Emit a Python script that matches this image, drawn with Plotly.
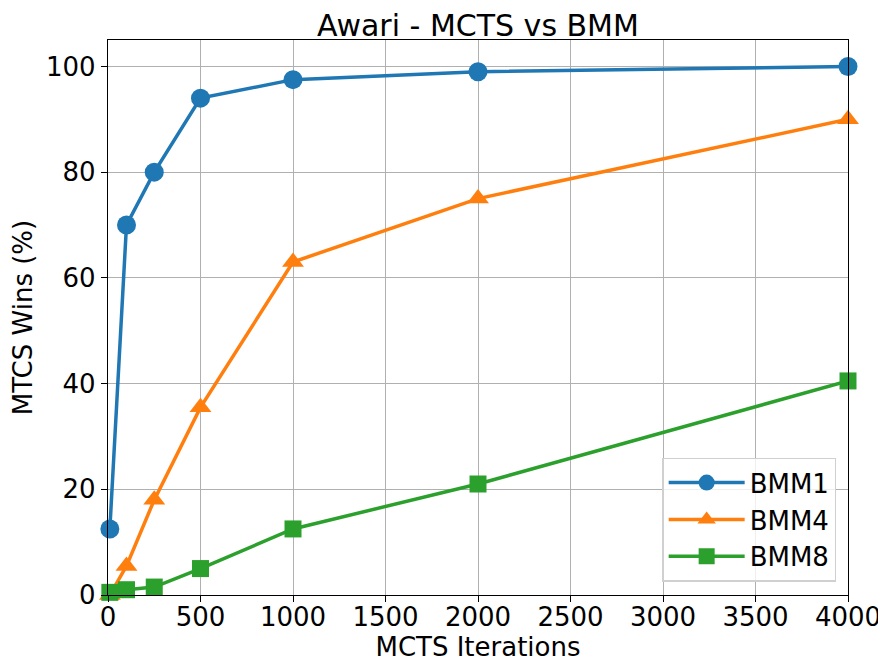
import plotly.graph_objects as go

iterations = [10, 100, 250, 500, 1000, 2000, 4000]
bmm1 = [12.5, 70, 80, 94, 97.5, 99, 100]
bmm4 = [0, 5.5, 18, 35.5, 63, 75, 90]
bmm8 = [0.5, 1, 1.5, 5, 12.5, 21, 40.5]
names = ["BMM1", "BMM4", "BMM8"]
colors = ["#1f77b4", "#ff7f0e", "#2ca02c"]
symbols = ["circle", "triangle-up", "square"]
x_ticks = [0, 500, 1000, 1500, 2000, 2500, 3000, 3500, 4000]
y_ticks = [0, 20, 40, 60, 80, 100]

fig = go.Figure()
for name, vals, c, s in zip(names, [bmm1, bmm4, bmm8], colors, symbols):
    fig.add_trace(go.Scatter(
        x=iterations, y=vals, name=name, mode="lines+markers",
        line=dict(color=c, width=3.5),
        marker=dict(symbol=s, size=19 if s != "square" else 17, color=c),
        cliponaxis=False,
    ))

font = "DejaVu Sans, sans-serif"
axis_common = dict(
    showline=True, linecolor="black", linewidth=1.3, mirror=True,
    ticks="outside", ticklen=6, tickwidth=1.3, tickcolor="black",
    showgrid=True, gridcolor="#b0b0b0", gridwidth=1.2, zeroline=False,
    tickfont=dict(size=26, color="black", family=font),
    automargin=False,
)
# page body has an 8px margin, so shift plot area margins accordingly
fig.update_layout(
    width=886, height=670,
    paper_bgcolor="white", plot_bgcolor="white",
    margin=dict(l=100, r=46, t=32, b=83),
    title=dict(text="Awari - MCTS vs BMM", x=0.5, xref="paper", xanchor="center",
               y=1 - 17 / 670, yref="container", yanchor="middle",
               font=dict(size=30, color="black", family=font)),
    xaxis=dict(range=[0, 4000], tickvals=x_ticks, ticklabelstandoff=-7,
               title=dict(text="MCTS Iterations", font=dict(size=26, color="black", family=font), standoff=6),
               **axis_common),
    yaxis=dict(range=[0, 105], tickvals=y_ticks,
               title=dict(text="MTCS Wins (%)", font=dict(size=26, color="black", family=font), standoff=6),
               **axis_common),
    legend=dict(x=0.984, y=0.024, xanchor="right", yanchor="bottom",
                bgcolor="rgba(255,255,255,0.8)", bordercolor="#d0d0d0", borderwidth=1.5,
                font=dict(size=26, color="black", family=font), itemwidth=76),
    showlegend=True,
)
fig.write_html("out.html")
